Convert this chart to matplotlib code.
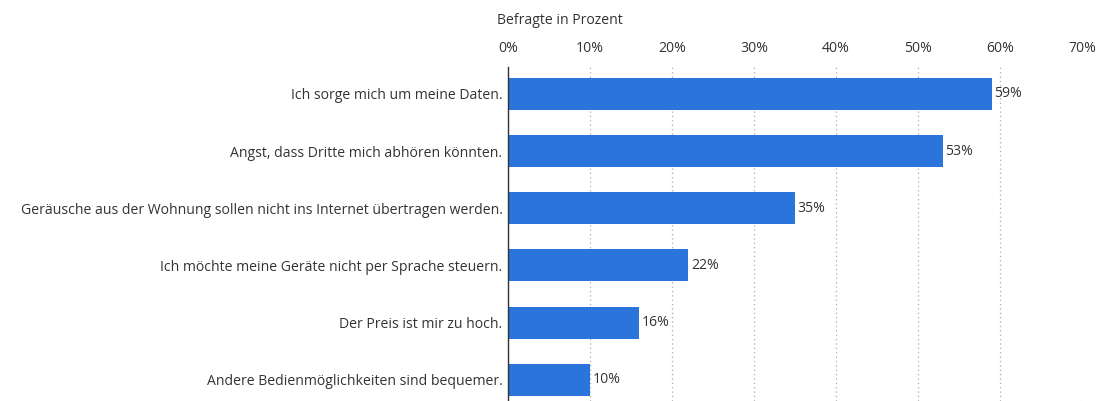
import matplotlib.pyplot as plt
import numpy as np

plt.rcParams['font.family'] = ['Open Sans', 'DejaVu Sans']

categories = [
    "Ich sorge mich um meine Daten.",
    "Angst, dass Dritte mich abhören könnten.",
    "Geräusche aus der Wohnung sollen nicht ins Internet übertragen werden.",
    "Ich möchte meine Geräte nicht per Sprache steuern.",
    "Der Preis ist mir zu hoch.",
    "Andere Bedienmöglichkeiten sind bequemer.",
]
values = [59, 53, 35, 22, 16, 10]
ticks = [0, 10, 20, 30, 40, 50, 60, 70]

text_col = '#333333'
bar_col = '#2a74db'
fs = 10.1

fig = plt.figure(figsize=(10.99, 4.01), dpi=100)
ax = fig.add_axes([508 / 1099, 0, (1082 - 508) / 1099, (401 - 67) / 401])

y = np.arange(len(categories))
ax.barh(y, values, height=0.56, color=bar_col, zorder=3)
for yi, v in zip(y, values):
    ax.text(v + 0.3, yi, f"{v}%", va='center', ha='left', fontsize=fs, color=text_col, zorder=4)

ax.set_xlim(0, 70)
ax.set_ylim(5.37, -0.47)
ax.set_yticks(y)
ax.set_yticklabels(categories, fontsize=fs, color=text_col)
ax.set_xticks(ticks)
ax.set_xticklabels([f"{t}%" for t in ticks], fontsize=fs, color=text_col)
ax.xaxis.tick_top()
ax.tick_params(axis='both', length=0)
ax.tick_params(axis='x', pad=8)
ax.tick_params(axis='y', pad=4)

ax.grid(axis='x', linestyle=(0, (1, 2.5)), color='#aaaaaa', linewidth=0.9, zorder=0)
for s in ['top', 'right', 'bottom']:
    ax.spines[s].set_visible(False)
ax.spines['left'].set_color('#333333')
ax.spines['left'].set_linewidth(1)
ax.spines['left'].set_zorder(5)

fig.text(497 / 1099, 1 - 21 / 401, "Befragte in Prozent", fontsize=fs, color=text_col, va='center', ha='left')

fig.savefig('out.png', dpi=100)
